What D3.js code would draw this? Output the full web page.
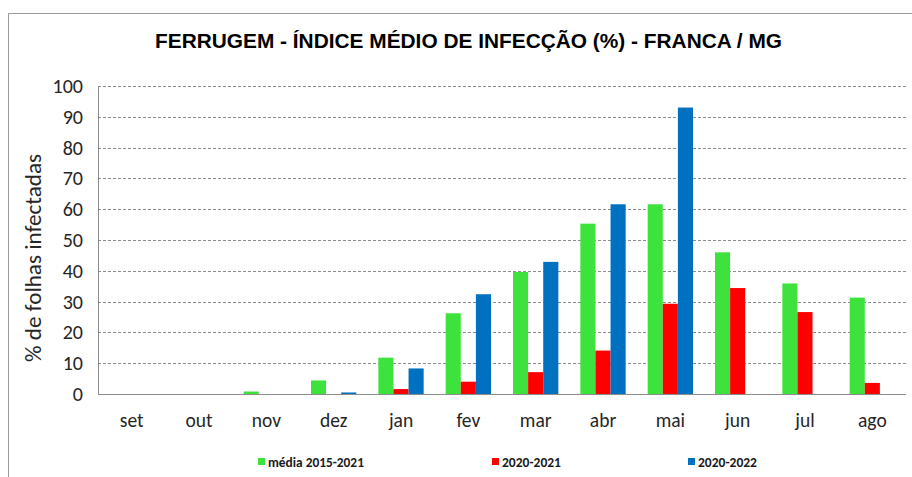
<!DOCTYPE html>
<html><head><meta charset="utf-8">
<script src="https://cdn.jsdelivr.net/npm/d3@7"></script>
<style>body{margin:0;background:#fff}</style>
</head><body>
<svg id="c" width="912" height="477"></svg>
<script>
const months = ["set","out","nov","dez","jan","fev","mar","abr","mai","jun","jul","ago"];
const mediaValues = [0,0,0.8,4.4,11.8,26.2,39.6,55.3,61.6,46.0,35.9,31.3];
const s2021Values = [0,0,0,0,1.6,4.0,7.1,14.1,29.3,34.4,26.6,3.6];
const s2022Values = [0,0,0,0.5,8.3,32.4,42.9,61.6,93.0,null,null,null];
const seriesNames = ["média 2015-2021","2020-2021","2020-2022"];
const seriesColors = ["#3de23d","#ff0000","#0070c0"];
const yTicks = [0,10,20,30,40,50,60,70,80,90,100];
const titleText = "FERRUGEM - ÍNDICE MÉDIO DE INFECÇÃO (%) - FRANCA / MG";
const yTitle = "% de folhas infectadas";

(function(){
const FONT = "Carlito, Calibri, Lato, sans-serif";
const seriesData = [mediaValues, s2021Values, s2022Values];
const svg = d3.select("#c");
const pL = 98, pR = 906, pT = 86, pB = 394;

function fit(sel, target){
  const n = sel.node(); const fs = +sel.attr("font-size");
  const w = n.getComputedTextLength();
  if (w > 0) sel.attr("font-size", (fs*target/w).toFixed(2));
}

// frame
svg.append("path").attr("d","M8.5,477 L8.5,13.5 L912,13.5").attr("fill","none").attr("stroke","#9a9a9a").attr("stroke-width",1);

const x0 = d3.scaleBand().domain(months).range([pL,pR]).paddingInner(0.327).paddingOuter(0.1635);
const x1 = d3.scaleBand().domain(d3.range(3)).range([0,x0.bandwidth()]);
const y = d3.scaleLinear().domain([0,100]).range([pB,pT]);

// grid
svg.append("g").selectAll("line").data(yTicks.filter(d=>d>0)).join("line")
  .attr("x1",pL).attr("x2",pR).attr("y1",d=>Math.round(y(d))+0.5).attr("y2",d=>Math.round(y(d))+0.5)
  .attr("stroke","#8c8c8c").attr("stroke-width",1).attr("stroke-dasharray","3,2");

// bars
const g = svg.append("g");
months.forEach((m,i)=>{
  seriesData.forEach((arr,s)=>{
    const v = arr[i];
    if(v==null || v<=0) return;
    g.append("rect").attr("x",x0(m)+x1(s)).attr("width",x1.bandwidth())
      .attr("y",y(v)).attr("height",y(0)-y(v)).attr("fill",seriesColors[s]);
  });
});

// axes lines
svg.append("line").attr("x1",pL+0.5).attr("x2",pL+0.5).attr("y1",pT).attr("y2",pB).attr("stroke","#8c8c8c");
svg.append("line").attr("x1",pL).attr("x2",pR).attr("y1",pB+0.5).attr("y2",pB+0.5).attr("stroke","#8c8c8c");

// y ticks
const yAxis = d3.axisLeft(y).tickValues(yTicks).tickSize(0).tickPadding(15);
const ya = svg.append("g").attr("transform",`translate(${pL},0)`).call(yAxis);
ya.select(".domain").remove();
ya.selectAll("text").attr("font-family",FONT).attr("font-size",20).attr("fill","#262626");

// x ticks
const xAxis = d3.axisBottom(x0).tickSize(0).tickPadding(19);
const xa = svg.append("g").attr("transform",`translate(0,${pB})`).call(xAxis);
xa.select(".domain").remove();
xa.selectAll("text").attr("font-family",FONT).attr("font-size",19.5).attr("fill","#262626");

// title
svg.append("text").attr("x",468.5).attr("y",48).attr("text-anchor","middle")
  .attr("font-family","Liberation Sans, Arial, sans-serif").attr("font-weight","bold").attr("font-size",19.5)
  .attr("textLength",627).attr("lengthAdjust","spacingAndGlyphs").attr("fill","#000").text(titleText);

// y title
const yt = svg.append("text").attr("transform","translate(41,258) rotate(-90)").attr("text-anchor","middle")
  .attr("font-family",FONT).attr("font-size",20).attr("fill","#262626").text(yTitle);
fit(yt, 208);

// legend
const legX = [258,492,688];
const legW = [96,59,59];
const leg = svg.append("g");
seriesNames.forEach((n,i)=>{
  leg.append("rect").attr("x",legX[i]).attr("y",458).attr("width",7).attr("height",7).attr("fill",seriesColors[i]);
  const t = leg.append("text").attr("x",legX[i]+10).attr("y",467).attr("font-family",FONT)
    .attr("font-weight","bold").attr("font-size",13).attr("fill","#1a1a1a").text(n);
  fit(t, legW[i]);
});
})();
</script>
</body></html>
